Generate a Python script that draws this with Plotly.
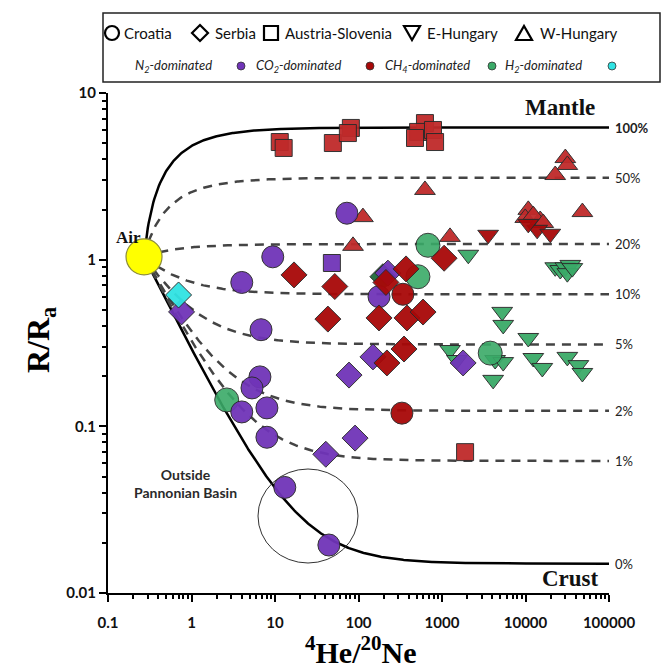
import numpy as np
import plotly.graph_objects as go

W, H = 662, 672

# ---------------- data ----------------
# Croatia (circles)
cro_n2_x = [72.6, 9.4, 4.0, 6.8, 176, 6.6, 5.3, 4.0, 8.0, 8.0, 13.1, 44.2]
cro_n2_y = [1.90, 1.04, 0.73, 0.38, 0.60, 0.198, 0.170, 0.122, 0.129, 0.086, 0.043, 0.0194]
cro_co2_x = [340, 331]
cro_co2_y = [0.62, 0.120]
cro_ch4_x = [3780, 679, 515, 2.64]
cro_ch4_y = [0.275, 1.22, 0.79, 0.144]

# Serbia (diamonds)
ser_n2_x = [0.76, 77, 149, 91, 40.6, 1790, 225]
ser_n2_y = [0.486, 0.203, 0.261, 0.085, 0.068, 0.240, 0.83]
ser_co2_x = [16.9, 52, 43, 371, 213, 176, 381, 593, 1060, 351, 219]
ser_co2_y = [0.81, 0.69, 0.44, 0.88, 0.73, 0.447, 0.447, 0.485, 1.02, 0.291, 0.240]
ser_ch4_x = [196]
ser_ch4_y = [0.79]
ser_h2_x = [0.70]
ser_h2_y = [0.614]

# Austria-Slovenia (squares)
aus_co2_x = [11.4, 12.7, 49.3, 81, 74.6, 625, 517, 780, 826, 475, 1890]
aus_co2_y = [5.08, 4.68, 5.01, 6.17, 5.75, 6.6, 5.84, 6.0, 5.08, 5.37, 0.070]
aus_n2_x = [48]
aus_n2_y = [0.955]

# E-Hungary (triangles down)
ehu_co2_x = [3570, 13800, 19800, 10800]
ehu_co2_y = [1.41, 1.51, 1.43, 1.64]
ehu_ch4_x = [2065, 22700, 26100, 30000, 34400, 31700, 36400, 5260, 5410, 10800,
             1247, 1510, 4330, 5410, 4100, 12400, 15900, 31700, 43000, 48000]
ehu_ch4_y = [1.07, 0.90, 0.867, 0.90, 0.93, 0.83, 0.89, 0.486, 0.406, 0.339,
             0.287, 0.250, 0.250, 0.243, 0.190, 0.257, 0.224, 0.261, 0.233, 0.209]

# W-Hungary (triangles up)
whu_co2_x = [113, 86, 625, 1247, 30000, 31700, 22700, 48000, 10800, 9930, 15000, 12400, 16300]
whu_co2_y = [1.80, 1.21, 2.62, 1.37, 4.07, 3.70, 3.22, 1.93, 1.99, 1.78, 1.73, 1.85, 1.66]

# Mixing model end-members
air_x, air_y = 0.27, 1.04
mantle_R = 6.2
crust_R = 0.015
mantle_pct = [50, 20, 10, 5, 2, 1]

x_ticks = [0.1, 1, 10, 100, 1000, 10000, 100000]
x_ticklabels = ["0.1", "1", "10", "100", "1000", "10000", "100000"]
y_ticks = [0.01, 0.1, 1, 10]
y_ticklabels = ["0.01", "0.1", "1", "10"]

# ---------------- colours ----------------
C_N2 = "#7034b8"
C_CO2 = "#a80808"
C_CO2L = "#bf2a2a"
C_CH4 = "#3aaa68"
C_H2 = "#30e3e3"
EDGE = "#2a2a2a"

fig = go.Figure()

# mixing curves
xs = np.logspace(np.log10(air_x), 5, 500)
def mix(Re):
    return Re - (Re - air_y) * air_x / xs

fig.add_trace(go.Scatter(x=xs, y=mix(mantle_R), mode="lines",
                         line=dict(color="black", width=2.5), hoverinfo="skip"))
fig.add_trace(go.Scatter(x=xs, y=mix(crust_R), mode="lines",
                         line=dict(color="black", width=2.5), hoverinfo="skip"))
for p in mantle_pct:
    fig.add_trace(go.Scatter(x=xs, y=mix(mantle_R * p / 100.0), mode="lines",
                             line=dict(color="#444444", width=2.5, dash="9px,7px"),
                             hoverinfo="skip"))

def pts(x, y, sym, col, size, op=0.95):
    fig.add_trace(go.Scatter(x=x, y=y, mode="markers",
                             marker=dict(symbol=sym, color=col, size=size, opacity=op,
                                         line=dict(color=EDGE, width=1))))

pts(aus_co2_x, aus_co2_y, "square", C_CO2L, 17)
pts(aus_n2_x, aus_n2_y, "square", C_N2, 17)
pts(whu_co2_x, whu_co2_y, "triangle-up", C_CO2L, 18)
pts(ehu_co2_x, ehu_co2_y, "triangle-down", C_CO2, 18)
pts(ehu_ch4_x, ehu_ch4_y, "triangle-down", C_CH4, 18)
pts(cro_ch4_x, cro_ch4_y, "circle", C_CH4, 24, 0.9)
pts(ser_ch4_x, ser_ch4_y, "diamond", "#1f6b3a", 20)
pts(ser_n2_x, ser_n2_y, "diamond", C_N2, 20)
pts(cro_n2_x, cro_n2_y, "circle", C_N2, 22)
pts(ser_co2_x, ser_co2_y, "diamond", C_CO2, 20)
pts(cro_co2_x, cro_co2_y, "circle", C_CO2, 22)
pts(ser_h2_x, ser_h2_y, "diamond", C_H2, 20)
# Air
fig.add_trace(go.Scatter(x=[air_x], y=[air_y], mode="markers",
                         marker=dict(symbol="circle", color="#ffff00", size=36,
                                     line=dict(color="#8c8c3a", width=1.2))))

# ---------------- layout ----------------
def PX(px):
    return px / W

def PY(py):
    return (H - py) / H

x0d, x1d = PX(108), PX(609)
y0d, y1d = PY(593), PY(93)

tickfont = dict(family="Lato", size=15, color="#111", weight="bold")
axis_common = dict(type="log", showgrid=False, zeroline=False, showline=True,
                   linecolor="black", linewidth=2, ticks="outside", ticklen=7,
                   tickwidth=2, tickcolor="black", tickfont=tickfont, mirror=False,
                   automargin=False,
                   minor=dict(ticks="outside", ticklen=4, tickwidth=1.5,
                              tickcolor="black", dtick="D1", showgrid=False))

fig.update_layout(
    template="none",
    width=W, height=H, margin=dict(l=0, r=0, t=0, b=0, autoexpand=False),
    paper_bgcolor="white", plot_bgcolor="white", showlegend=False,
    xaxis=dict(domain=[x0d, x1d], range=[-1, 5], tickmode="array",
               tickvals=x_ticks, ticktext=x_ticklabels, ticklabelstandoff=8, **axis_common),
    yaxis=dict(domain=[y0d, y1d], range=[-2, 1], tickmode="array",
               tickvals=y_ticks, ticktext=y_ticklabels, **axis_common),
)

ann = []
serif = "Liberation Serif"

def note(xp, yp, text, font, xanchor="center", **kw):
    d = dict(x=PX(xp), y=PY(yp), xref="paper", yref="paper", text=text,
             showarrow=False, xanchor=xanchor, yanchor="middle", font=font)
    d.update(kw)
    ann.append(d)

# axis titles
note(360, 650, "<sup>4</sup>He/<sup>20</sup>Ne",
     dict(family=serif, size=30, color="black", weight="bold"))
note(40, 340, "R/R<sub>a</sub>",
     dict(family=serif, size=32, color="black", weight="bold"), textangle=-90)
# labels in the plot
note(560, 108, "Mantle", dict(family=serif, size=23, color="#111", weight="bold"))
note(570, 578, "Crust", dict(family=serif, size=23, color="#111", weight="bold"))
note(128, 238, "Air", dict(family=serif, size=17, color="#111", weight="bold"))
note(185, 483, "<b>Outside<br>Pannonian Basin</b>",
     dict(family="Lato", size=14, color="#2a2a2a"))
# percentage labels
pct_vals = [100] + mantle_pct + [0]
for p in pct_vals:
    R = mantle_R * p / 100.0 if p > 0 else crust_R
    ann.append(dict(x=PX(613), y=np.log10(R), xref="paper", yref="y", xanchor="left",
                    yanchor="middle", text=f"{p}%", showarrow=False,
                    font=dict(family="Lato", size=13, color="#222",
                              weight="bold" if p == 100 else "normal")))

# legend texts
leg1 = [("Croatia", 122), ("Serbia", 213), ("Austria-Slovenia", 283),
        ("E-Hungary", 425), ("W-Hungary", 538)]
for t, xp in leg1:
    note(xp, 33, t, dict(family="Lato", size=15, color="#111"), xanchor="left")
leg2 = [("<i>N<sub>2</sub>-dominated</i>", 133), ("<i>CO<sub>2</sub>-dominated</i>", 254),
        ("<i>CH<sub>4</sub>-dominated</i>", 383), ("<i>H<sub>2</sub>-dominated</i>", 503)]
for t, xp in leg2:
    note(xp, 66, t, dict(family="Lato", size=13, color="#222"), xanchor="left")
fig.update_layout(annotations=ann)

# legend box and symbols (decorations)
shapes = []
shapes.append(dict(type="rect", xref="paper", yref="paper", x0=PX(103), x1=PX(660),
                   y0=PY(82), y1=PY(13), line=dict(color="#222", width=1.5)))
# ellipse around outside-basin samples
shapes.append(dict(type="circle", xref="paper", yref="paper", x0=PX(258), x1=PX(358),
                   y0=PY(563), y1=PY(469), line=dict(color="#333", width=1)))

def sym(path, cx, cy, fill="rgba(0,0,0,0)", lw=2.2):
    return dict(type="path", xref="paper", yref="paper", xsizemode="pixel",
                ysizemode="pixel", xanchor=PX(cx), yanchor=PY(cy), path=path,
                fillcolor=fill, line=dict(color="black", width=lw))

shapes.append(dict(type="circle", xref="paper", yref="paper", xsizemode="pixel",
                   ysizemode="pixel", xanchor=PX(112), yanchor=PY(33),
                   x0=-7, x1=7, y0=-7, y1=7, line=dict(color="black", width=2.2)))
shapes.append(sym("M0,8 L8,0 L0,-8 L-8,0 Z", 200, 33))
shapes.append(sym("M-7,-7 L7,-7 L7,7 L-7,7 Z", 271, 33))
shapes.append(sym("M-8,7 L8,7 L0,-7 Z", 412, 33))
shapes.append(sym("M-8,-7 L8,-7 L0,7 Z", 524, 33))
for c, xp in [(C_N2, 241), (C_CO2, 370), (C_CH4, 492), (C_H2, 612)]:
    shapes.append(dict(type="circle", xref="paper", yref="paper", xsizemode="pixel",
                       ysizemode="pixel", xanchor=PX(xp), yanchor=PY(66),
                       x0=-4, x1=4, y0=-4, y1=4, fillcolor=c,
                       line=dict(color="#333", width=0.8)))
fig.update_layout(shapes=shapes)

fig.write_html("out.html")
